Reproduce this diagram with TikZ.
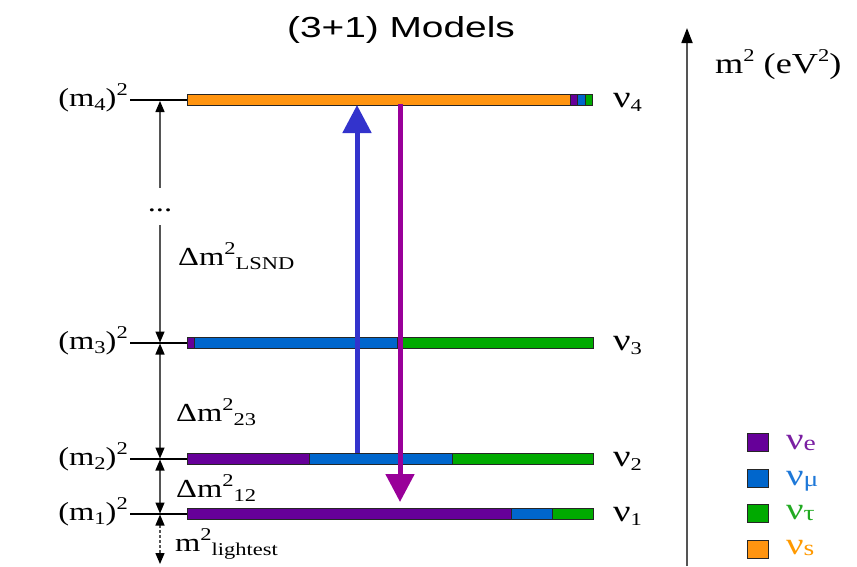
\documentclass[tikz,border=0pt]{standalone}
\usepackage{fontspec}
\setmainfont{Liberation Serif}
\newfontfamily\titlefont{Liberation Sans}
\usetikzlibrary{arrows.meta}
\definecolor{cor}{HTML}{FF9410}
\definecolor{cpu}{HTML}{660099}
\definecolor{cbl}{HTML}{0066CC}
\definecolor{cgr}{HTML}{00AA00}
\definecolor{arrblue}{HTML}{3333CC}
\definecolor{arrpur}{HTML}{990099}
\definecolor{axgray}{HTML}{555555}
\definecolor{lpu}{HTML}{7A1FA2}
\definecolor{lbl}{HTML}{1E78D8}
\definecolor{lgr}{HTML}{22AA22}
\definecolor{lor}{HTML}{FF9900}
\newcommand{\stx}[1]{\scalebox{1.25}[1]{#1}}
\newcommand{\lsub}[1]{\raisebox{-0.35ex}{\fontsize{18}{18}\selectfont #1}}
\newcommand{\lsup}[1]{\raisebox{0.85ex}{\fontsize{18}{18}\selectfont #1}}
\newcommand{\gsub}[1]{\raisebox{-0.1ex}{\fontsize{22}{22}\selectfont #1}}
\newcommand{\nuu}{{\fontsize{31}{31}\selectfont ν}}
\begin{document}
\begin{tikzpicture}[x=1pt,y=-1pt,
  seg/.style={draw=black!85,line width=0.8pt},
  tick/.style={black,line width=1.6pt},
  vax/.style={axgray,line width=1.4pt,>={Triangle[width=9pt,length=11pt,color=black]}},
  lbl/.style={font=\fontsize{26}{28}\selectfont,inner sep=0pt},
  legbox/.style={draw=black!85,line width=1pt},
  bigarrow/.style={line width=5pt,-{Triangle[width=28pt,length=28pt]}}]
\useasboundingbox (0,0) rectangle (857,566);

% title
\node[font=\titlefont\fontsize{29}{31}\selectfont,inner sep=0pt,anchor=base] (title) at (401,37) {\scalebox{1.34}[1]{(3+1) Models}};

% bars
% nu4
\fill[cor,seg] (187,94.5) rectangle (570,105.5);
\fill[cpu,seg] (570,94.5) rectangle (577,105.5);
\fill[cbl,seg] (577,94.5) rectangle (585,105.5);
\fill[cgr,seg] (585,94.5) rectangle (592,105.5);
% nu3
\fill[cpu,seg] (187,337.5) rectangle (194,348.5);
\fill[cbl,seg] (194,337.5) rectangle (397,348.5);
\fill[cgr,seg] (397,337.5) rectangle (593,348.5);
% nu2
\fill[cpu,seg] (187,453.5) rectangle (309,464.5);
\fill[cbl,seg] (309,453.5) rectangle (452,464.5);
\fill[cgr,seg] (452,453.5) rectangle (593,464.5);
% nu1
\fill[cpu,seg] (187,508.5) rectangle (511,519.5);
\fill[cbl,seg] (511,508.5) rectangle (552,519.5);
\fill[cgr,seg] (552,508.5) rectangle (593,519.5);

% level coordinates
\coordinate (t4) at (130,100); \coordinate (b4) at (187,100);
\coordinate (t3) at (130,343); \coordinate (b3) at (187,343);
\coordinate (t2) at (130,459); \coordinate (b2) at (187,459);
\coordinate (t1) at (130,514); \coordinate (b1) at (187,514);
\draw[tick] (t4) -- (b4);
\draw[tick] (t3) -- (b3);
\draw[tick] (t2) -- (b2);
\draw[tick] (t1) -- (b1);

% left axis
\coordinate (a4) at (160,101);
\coordinate (a3) at (160,342.5);
\coordinate (a3b) at (160,343.5);
\coordinate (a2) at (160,458.5);
\coordinate (a2b) at (160,459.5);
\coordinate (a1) at (160,513.5);
\coordinate (a1b) at (160,514.5);
\coordinate (abot) at (160,564);
\coordinate (dtop) at (160,188);
\coordinate (dbot) at (160,225);
\draw[vax,<-] (a4) -- (dtop);
\node[lbl,anchor=base] (dots) at (160,211) {\stx{...}};
\draw[vax,->] (dbot) -- (a3);
\draw[vax,<->] (a3b) -- (a2);
\draw[vax,<->] (a2b) -- (a1);
\draw[vax,dash pattern=on 3pt off 2pt,<->] (a1b) -- (abot);

% left labels
\node[lbl,anchor=base east] (m4) at (128,106) {\stx{(m\lsub{4})\lsup{2}}};
\node[lbl,anchor=base east] (m3) at (128,349) {\stx{(m\lsub{3})\lsup{2}}};
\node[lbl,anchor=base east] (m2) at (128,465) {\stx{(m\lsub{2})\lsup{2}}};
\node[lbl,anchor=base east] (m1) at (128,520) {\stx{(m\lsub{1})\lsup{2}}};

\node[lbl,anchor=base west] (dlsnd) at (178,265) {\stx{Δm\lsup{2}\lsub{LSND}}};
\node[lbl,anchor=base west] (d23) at (176,421) {\stx{Δm\lsup{2}\lsub{23}}};
\node[lbl,anchor=base west] (d12) at (176,497) {\stx{Δm\lsup{2}\lsub{12}}};
\node[lbl,anchor=base west] (dlight) at (175,551) {\stx{m\lsup{2}\lsub{lightest}}};

% right labels
\node[lbl,anchor=base west] (n4) at (613,107) {\stx{\nuu\lsub{4}}};
\node[lbl,anchor=base west] (n3) at (613,350) {\stx{\nuu\lsub{3}}};
\node[lbl,anchor=base west] (n2) at (613,466) {\stx{\nuu\lsub{2}}};
\node[lbl,anchor=base west] (n1) at (613,521) {\stx{\nuu\lsub{1}}};

% big arrows
\coordinate (bs) at (357,453);
\coordinate (be) at (357,105);
\coordinate (ps) at (400,104);
\coordinate (pe) at (400,502);
\draw[arrblue,bigarrow] (bs) -- (be);
\draw[arrpur,bigarrow] (ps) -- (pe);

% right axis
\coordinate (ax0) at (687,566);
\coordinate (ax1) at (687,28);
\draw[axgray,line width=1.8pt,-{Triangle[width=11pt,length=15pt,color=black]}] (ax0) -- (ax1);
\node[lbl,font=\fontsize{29}{31}\selectfont,anchor=base west] (axlbl) at (715,73) {\stx{m\lsup{2} (eV\lsup{2})}};

% legend
\filldraw[fill=cpu,legbox] (747,433) rectangle (768,451);
\filldraw[fill=cbl,legbox] (747,469) rectangle (768,487);
\filldraw[fill=cgr,legbox] (747,504) rectangle (768,522);
\filldraw[fill=cor,legbox] (747,540) rectangle (768,558);
\node[lbl,text=lpu,anchor=base west] (le) at (786,449) {\stx{\nuu\gsub{e}}};
\node[lbl,text=lbl,anchor=base west] (lm) at (786,485) {\stx{\nuu\gsub{μ}}};
\node[lbl,text=lgr,anchor=base west] (lt) at (786,519) {\stx{\nuu\gsub{τ}}};
\node[lbl,text=lor,anchor=base west] (ls) at (786,554) {\stx{\nuu\gsub{s}}};
\end{tikzpicture}
\end{document}
